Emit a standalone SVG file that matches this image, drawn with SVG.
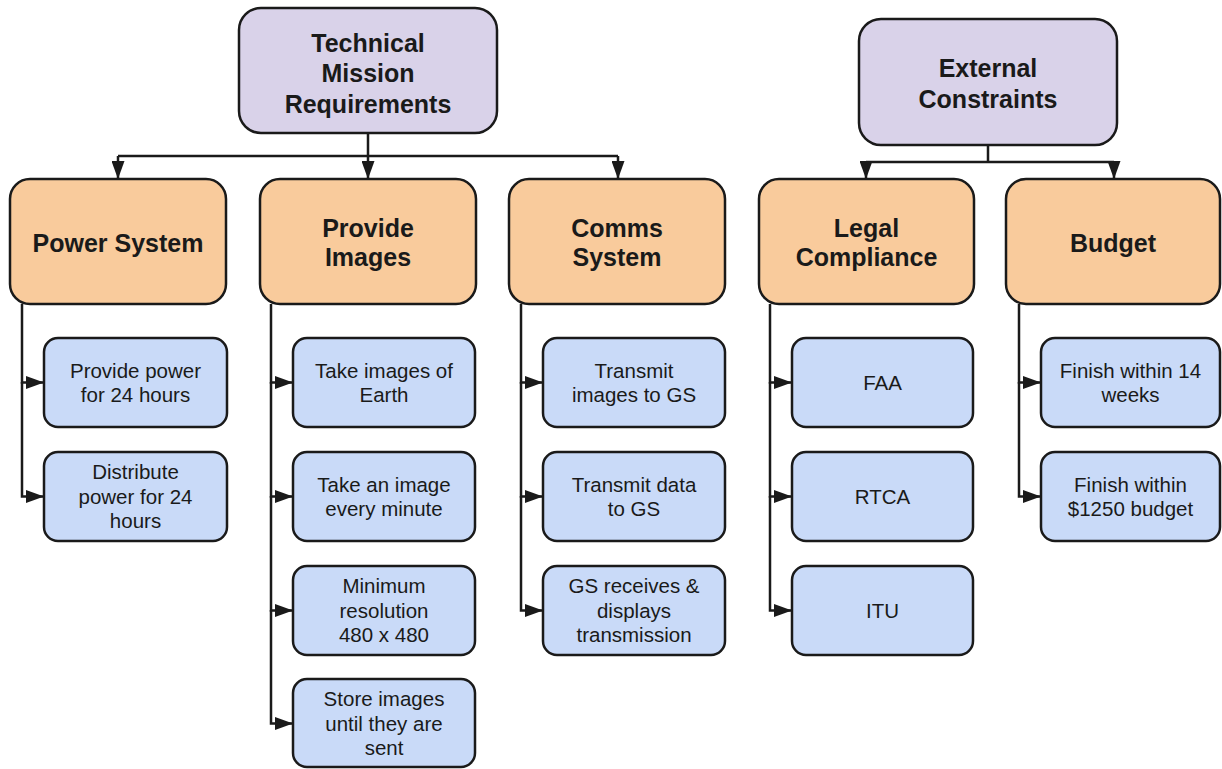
<svg xmlns="http://www.w3.org/2000/svg" width="1222" height="769" viewBox="0 0 1222 769">
<style>
.top{fill:#d9d2e9;stroke:#1a1a1a;stroke-width:2.5}
.mid{fill:#f9cb9c;stroke:#1a1a1a;stroke-width:2.5}
.leaf{fill:#c9daf8;stroke:#1a1a1a;stroke-width:2.5}
.hb{font-family:"Liberation Sans",Arial,sans-serif;font-weight:bold;font-size:25px;fill:#1a1a1a;text-anchor:middle}
.lt{font-family:"Liberation Sans",Arial,sans-serif;font-size:20.5px;fill:#1a1a1a;text-anchor:middle}
.c{fill:none;stroke:#1a1a1a;stroke-width:2.5}
</style>
<defs>
<marker id="ah" markerUnits="userSpaceOnUse" markerWidth="18" markerHeight="13" viewBox="0 0 18 13" refX="18" refY="6.5" orient="auto">
<path d="M0,0 L18,6.5 L0,13 z" fill="#1a1a1a"/>
</marker>
</defs>
<rect width="1222" height="769" fill="#ffffff"/>
<g id="connectors">
<path class="c" d="M368,133 V156 M118,156 H618"/>
<path class="c" d="M118,156 V179" marker-end="url(#ah)"/>
<path class="c" d="M368,156 V179" marker-end="url(#ah)"/>
<path class="c" d="M618,156 V179" marker-end="url(#ah)"/>
<path class="c" d="M988,145 V162 M866,162 H1114"/>
<path class="c" d="M866,162 V179" marker-end="url(#ah)"/>
<path class="c" d="M1114,162 V179" marker-end="url(#ah)"/>
<path class="c" d="M22,304 V382.5 H44" marker-end="url(#ah)"/>
<path class="c" d="M22,382 V496.5 H44" marker-end="url(#ah)"/>
<path class="c" d="M271,304 V382.5 H293" marker-end="url(#ah)"/>
<path class="c" d="M271,382 V496.5 H293" marker-end="url(#ah)"/>
<path class="c" d="M271,496 V610.5 H293" marker-end="url(#ah)"/>
<path class="c" d="M271,610 V723.5 H293" marker-end="url(#ah)"/>
<path class="c" d="M521,304 V382.5 H543" marker-end="url(#ah)"/>
<path class="c" d="M521,382 V496.5 H543" marker-end="url(#ah)"/>
<path class="c" d="M521,496 V610.5 H543" marker-end="url(#ah)"/>
<path class="c" d="M770,304 V382.5 H792" marker-end="url(#ah)"/>
<path class="c" d="M770,382 V496.5 H792" marker-end="url(#ah)"/>
<path class="c" d="M770,496 V610.5 H792" marker-end="url(#ah)"/>
<path class="c" d="M1019,304 V382.5 H1041" marker-end="url(#ah)"/>
<path class="c" d="M1019,382 V496.5 H1041" marker-end="url(#ah)"/>
</g>
<g id="tmr">
<rect class="top" x="239" y="8" width="258" height="125" rx="22"/>
<text class="hb" x="368" y="51.5">Technical</text>
<text class="hb" x="368" y="82">Mission</text>
<text class="hb" x="368" y="112.5">Requirements</text>
</g>
<g id="ec">
<rect class="top" x="859" y="19" width="258" height="126" rx="22"/>
<text class="hb" x="988" y="77">External</text>
<text class="hb" x="988" y="108">Constraints</text>
</g>
<g id="power">
<rect class="mid" x="10" y="179" width="216" height="125" rx="20"/>
<text class="hb" x="118" y="252">Power System</text>
</g>
<g id="images">
<rect class="mid" x="260" y="179" width="216" height="125" rx="20"/>
<text class="hb" x="368" y="237">Provide</text>
<text class="hb" x="368" y="266">Images</text>
</g>
<g id="comms">
<rect class="mid" x="509" y="179" width="216" height="125" rx="20"/>
<text class="hb" x="617" y="237">Comms</text>
<text class="hb" x="617" y="266">System</text>
</g>
<g id="legal">
<rect class="mid" x="759" y="179" width="215" height="125" rx="20"/>
<text class="hb" x="866.5" y="237">Legal</text>
<text class="hb" x="866.5" y="266">Compliance</text>
</g>
<g id="budget">
<rect class="mid" x="1006" y="179" width="214" height="125" rx="20"/>
<text class="hb" x="1113" y="252">Budget</text>
</g>
<g id="p1"><rect class="leaf" x="44" y="338" width="183" height="89" rx="14"/>
<text class="lt" x="135.5" y="377.5">Provide power</text><text class="lt" x="135.5" y="402">for 24 hours</text></g>
<g id="p2"><rect class="leaf" x="44" y="452" width="183" height="89" rx="14"/>
<text class="lt" x="135.5" y="479.3">Distribute</text><text class="lt" x="135.5" y="503.8">power for 24</text><text class="lt" x="135.5" y="528.3">hours</text></g>
<g id="i1"><rect class="leaf" x="293" y="338" width="182" height="89" rx="14"/>
<text class="lt" x="384" y="377.5">Take images of</text><text class="lt" x="384" y="402">Earth</text></g>
<g id="i2"><rect class="leaf" x="293" y="452" width="182" height="89" rx="14"/>
<text class="lt" x="384" y="491.5">Take an image</text><text class="lt" x="384" y="516">every minute</text></g>
<g id="i3"><rect class="leaf" x="293" y="566" width="182" height="89" rx="14"/>
<text class="lt" x="384" y="593.3">Minimum</text><text class="lt" x="384" y="617.8">resolution</text><text class="lt" x="384" y="642.3">480 x 480</text></g>
<g id="i4"><rect class="leaf" x="293" y="679" width="182" height="88" rx="14"/>
<text class="lt" x="384" y="706.3">Store images</text><text class="lt" x="384" y="730.8">until they are</text><text class="lt" x="384" y="755.3">sent</text></g>
<g id="c1"><rect class="leaf" x="543" y="338" width="182" height="89" rx="14"/>
<text class="lt" x="634" y="377.5">Transmit</text><text class="lt" x="634" y="402">images to GS</text></g>
<g id="c2"><rect class="leaf" x="543" y="452" width="182" height="89" rx="14"/>
<text class="lt" x="634" y="491.5">Transmit data</text><text class="lt" x="634" y="516">to GS</text></g>
<g id="c3"><rect class="leaf" x="543" y="566" width="182" height="89" rx="14"/>
<text class="lt" x="634" y="593.3">GS receives &amp;</text><text class="lt" x="634" y="617.8">displays</text><text class="lt" x="634" y="642.3">transmission</text></g>
<g id="l1"><rect class="leaf" x="792" y="338" width="181" height="89" rx="14"/>
<text class="lt" x="882.5" y="390">FAA</text></g>
<g id="l2"><rect class="leaf" x="792" y="452" width="181" height="89" rx="14"/>
<text class="lt" x="882.5" y="504">RTCA</text></g>
<g id="l3"><rect class="leaf" x="792" y="566" width="181" height="89" rx="14"/>
<text class="lt" x="882.5" y="618">ITU</text></g>
<g id="b1"><rect class="leaf" x="1041" y="338" width="179" height="89" rx="14"/>
<text class="lt" x="1130.5" y="377.5">Finish within 14</text><text class="lt" x="1130.5" y="402">weeks</text></g>
<g id="b2"><rect class="leaf" x="1041" y="452" width="179" height="89" rx="14"/>
<text class="lt" x="1130.5" y="491.5">Finish within</text><text class="lt" x="1130.5" y="516">$1250 budget</text></g>
</svg>
